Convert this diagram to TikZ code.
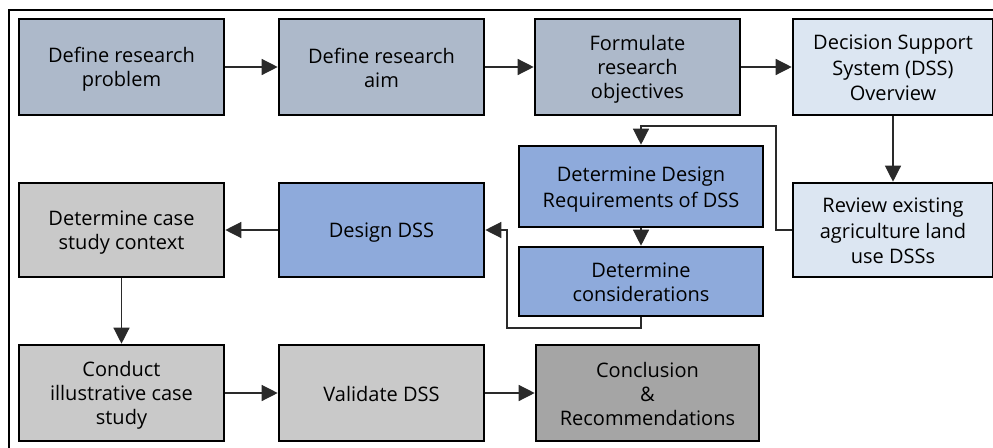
\documentclass[tikz,border=0pt]{standalone}
\usepackage{fontspec}
\setmainfont{Open Sans}
\usetikzlibrary{arrows.meta}
\definecolor{rowone}{HTML}{ADB9CA}
\definecolor{lightblue}{HTML}{DCE6F2}
\definecolor{midblue}{HTML}{8EAADB}
\definecolor{lightgray}{HTML}{C9C9C9}
\definecolor{darkgray}{HTML}{A5A5A5}
\definecolor{linecol}{HTML}{2A2A2A}
\newcommand\lstrut{\rule[-4pt]{0pt}{24pt}}
\tikzset{
  box/.style={draw=black, line width=2.6pt, align=center, inner sep=0pt,
    font=\fontsize{20}{24}\selectfont, text=black},
  arr/.style={draw=linecol, line width=1.3pt, -{Triangle[length=16pt,width=16pt]}},
}
\begin{document}
\begin{tikzpicture}[x=1pt,y=-1pt]
\useasboundingbox (0,0) rectangle (993,447);
\clip (0,0) rectangle (993,447);
\draw[line width=2.4pt] (9,10) rectangle (1200,600);
% row 1
\node[box, fill=rowone, minimum width=205, minimum height=96] (b1) at (121.5,67) {\lstrut Define research\\\lstrut problem};
\node[box, fill=rowone, minimum width=205, minimum height=96] (b2) at (381.5,67) {\lstrut Define research\\\lstrut aim};
\node[box, fill=rowone, minimum width=205, minimum height=96] (b3) at (637.5,67) {\lstrut Formulate\\\lstrut research\\\lstrut objectives};
\node[box, fill=lightblue, minimum width=200, minimum height=96] (b4) at (893,67) {\lstrut Decision Support\\\lstrut System (DSS)\\\lstrut Overview};
% row 2
\node[box, fill=midblue, minimum width=244, minimum height=81] (ddr) at (641,186.5) {\lstrut Determine Design\\\lstrut Requirements of DSS};
\node[box, fill=midblue, minimum width=244, minimum height=69] (dc) at (641,281.5) {\lstrut Determine\\\lstrut considerations};
\node[box, fill=lightblue, minimum width=200, minimum height=94] (rev) at (893,230) {\lstrut Review existing\\\lstrut agriculture land\\\lstrut use DSSs};
\node[box, fill=midblue, minimum width=205, minimum height=94] (des) at (381.5,230) {\lstrut Design DSS};
\node[box, fill=lightgray, minimum width=205, minimum height=94] (cas) at (121.5,230) {\lstrut Determine case\\\lstrut study context};
% row 3
\node[box, fill=lightgray, minimum width=205, minimum height=96] (con) at (121.5,393) {\lstrut Conduct\\\lstrut illustrative case\\\lstrut study};
\node[box, fill=lightgray, minimum width=205, minimum height=96] (val) at (381.5,393) {\lstrut Validate DSS};
\node[box, fill=darkgray, minimum width=223, minimum height=96] (clu) at (647.5,393) {\lstrut Conclusion\\\lstrut\&\\\lstrut Recommendations};
% connectors
\coordinate (c1) at (776,126);
\coordinate (c2) at (507,328);
\draw[arr] (b1) -- (b2);
\draw[arr] (b2) -- (b3);
\draw[arr] (b3.east) -- (b4.west);
\draw[arr] (b4) -- (rev);
\draw[arr] (rev.west) -| (c1) -| (ddr.north);
\draw[arr] (ddr) -- (dc);
\draw[arr] (dc.south) |- (c2) |- (des.east);
\draw[arr] (des) -- (cas);
\draw[arr] (cas) -- (con);
\draw[arr] (con) -- (val);
\draw[arr] (val.east) -- (val.east -| clu.west);
\end{tikzpicture}
\end{document}
